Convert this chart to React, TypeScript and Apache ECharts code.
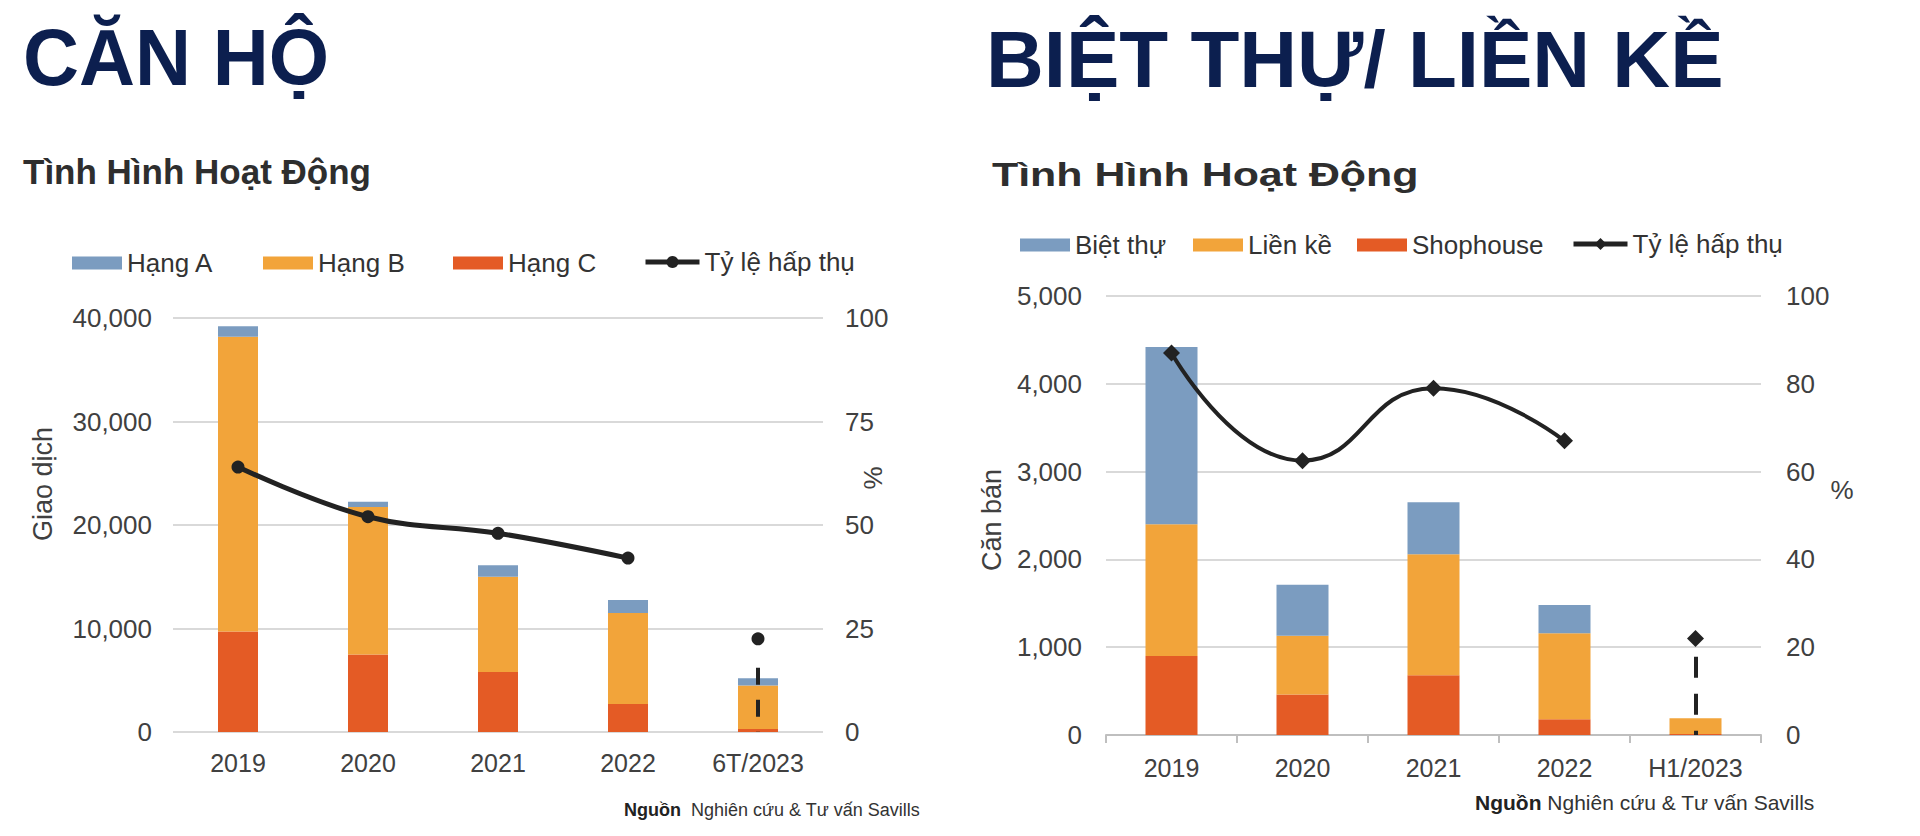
import React, { useEffect, useRef } from 'react';
import * as echarts from 'echarts';

// ---------- Data: CĂN HỘ ----------
const aptCategories = ['2019', '2020', '2021', '2022', '6T/2023'];
const aptHangA = [1000, 500, 1100, 1250, 700];
const aptHangB = [28500, 14250, 9200, 8800, 4200];
const aptHangC = [9700, 7500, 5800, 2700, 300];
const aptRate: (number | string)[] = [64, 52, 48, 42, '-'];
const aptRateH1: (number | string)[] = ['-', '-', '-', '-', 22.5];
const aptDashRange = [15.5, 0];
const aptLeftTicks = [0, 10000, 20000, 30000, 40000];
const aptRightTicks = [0, 25, 50, 75, 100];

// ---------- Data: BIỆT THỰ / LIỀN KỀ ----------
const villaCategories = ['2019', '2020', '2021', '2022', 'H1/2023'];
const villaBietThu = [2020, 580, 590, 320, 0];
const villaLienKe = [1500, 670, 1380, 980, 180];
const villaShophouse = [900, 460, 680, 180, 10];
const villaRate: (number | string)[] = [87, 62.5, 79, 67, '-'];
const villaRateH1: (number | string)[] = ['-', '-', '-', '-', 22];
const villaDashRange = [17.8, 0];
const villaLeftTicks = [0, 1000, 2000, 3000, 4000, 5000];
const villaRightTicks = [0, 20, 40, 60, 80, 100];

const FONT = '"Liberation Sans", Arial, Helvetica, sans-serif';
const BLUE = '#7b9cc0';
const ORANGE = '#f2a43a';
const RED = '#e45b25';
const LINE = '#222222';
const NAVY = '#0c1f4f';
const LABEL = '#404040';
const GRIDC = '#d9d9d9';

const fmt = (v: number) => v.toLocaleString('en-US');

function axisFrom(ticks: number[]) {
  return { min: ticks[0], max: ticks[ticks.length - 1], interval: ticks[1] - ticks[0] };
}

function legend(name: string, left: number, top: number, isBar: boolean) {
  const l: any = {
    data: [name],
    left,
    top,
    padding: 0,
    itemWidth: isBar ? 50 : 54,
    itemHeight: isBar ? 13 : 15,
    itemGap: 0,
    selectedMode: false,
    textStyle: { fontSize: 26, color: '#333333', fontFamily: FONT },
  };
  if (isBar) l.icon = 'rect';
  else l.lineStyle = { width: 5, color: LINE };
  return l;
}

export default function App() {
  const ref = useRef<HTMLDivElement>(null);

  useEffect(() => {
    if (!ref.current) return;
    const chart = echarts.init(ref.current, undefined, { renderer: 'svg' });

    const yLabel = { fontSize: 26, color: LABEL, fontFamily: FONT };
    const xLabel = { fontSize: 25, color: LABEL, fontFamily: FONT };

    const option: any = {
      animation: false,
      backgroundColor: '#ffffff',
      textStyle: { fontFamily: FONT },
      legend: [
        legend('Hạng A', 72, 250, true),
        legend('Hạng B', 263, 250, true),
        legend('Hạng C', 453, 250, true),
        { ...legend('Tỷ lệ hấp thụ', 643, 249, false) },
        legend('Biệt thự', 1020, 232, true),
        legend('Liền kề', 1193, 232, true),
        legend('Shophouse', 1357, 232, true),
        { ...legend('Tỷ lệ hấp thụ ', 1571, 231, false) },
      ],
      grid: [
        { left: 173, top: 318, width: 650, height: 414 },
        { left: 1106, top: 296, width: 655, height: 439 },
      ],
      xAxis: [
        {
          type: 'category',
          gridIndex: 0,
          data: aptCategories,
          axisLine: { show: false },
          axisTick: { show: false },
          axisLabel: { ...xLabel, margin: 18 },
        },
        {
          type: 'category',
          gridIndex: 1,
          data: villaCategories,
          axisLine: { show: true, lineStyle: { color: '#bfbfbf', width: 2 } },
          axisTick: { show: true, length: 8, lineStyle: { color: '#bfbfbf', width: 2 } },
          axisLabel: { ...xLabel, margin: 20 },
        },
      ],
      yAxis: [
        {
          type: 'value',
          gridIndex: 0,
          position: 'left',
          ...axisFrom(aptLeftTicks),
          axisLine: { show: false },
          axisTick: { show: false },
          splitLine: { show: true, lineStyle: { color: GRIDC, width: 2 } },
          axisLabel: { ...yLabel, margin: 21, formatter: (v: number) => fmt(v) },
        },
        {
          type: 'value',
          gridIndex: 0,
          position: 'right',
          ...axisFrom(aptRightTicks),
          axisLine: { show: false },
          axisTick: { show: false },
          splitLine: { show: false },
          axisLabel: { ...yLabel, margin: 22 },
        },
        {
          type: 'value',
          gridIndex: 1,
          position: 'left',
          ...axisFrom(villaLeftTicks),
          axisLine: { show: false },
          axisTick: { show: false },
          splitLine: { show: true, lineStyle: { color: GRIDC, width: 2 } },
          axisLabel: { ...yLabel, margin: 24, formatter: (v: number) => fmt(v) },
        },
        {
          type: 'value',
          gridIndex: 1,
          position: 'right',
          ...axisFrom(villaRightTicks),
          axisLine: { show: false },
          axisTick: { show: false },
          splitLine: { show: false },
          axisLabel: { ...yLabel, margin: 25 },
        },
      ],
      series: [
        // ----- Căn hộ -----
        { name: 'Hạng C', type: 'bar', stack: 'apt', xAxisIndex: 0, yAxisIndex: 0, barWidth: 40, data: aptHangC, itemStyle: { color: RED } },
        { name: 'Hạng B', type: 'bar', stack: 'apt', xAxisIndex: 0, yAxisIndex: 0, barWidth: 40, data: aptHangB, itemStyle: { color: ORANGE } },
        { name: 'Hạng A', type: 'bar', stack: 'apt', xAxisIndex: 0, yAxisIndex: 0, barWidth: 40, data: aptHangA, itemStyle: { color: BLUE } },
        {
          name: 'Tỷ lệ hấp thụ',
          type: 'line',
          xAxisIndex: 0,
          yAxisIndex: 1,
          data: aptRate,
          smooth: 0.4,
          symbol: 'circle',
          symbolSize: 13,
          lineStyle: { color: LINE, width: 5 },
          itemStyle: { color: LINE },
          z: 5,
        },
        {
          name: 'Tỷ lệ hấp thụ',
          type: 'line',
          xAxisIndex: 0,
          yAxisIndex: 1,
          data: aptRateH1,
          symbol: 'circle',
          symbolSize: 13,
          lineStyle: { color: LINE, width: 5 },
          itemStyle: { color: LINE },
          z: 5,
          markLine: {
            silent: true,
            symbol: 'none',
            label: { show: false },
            lineStyle: { color: LINE, width: 4, type: [17, 15] },
            data: [[{ coord: [4, aptDashRange[0]] }, { coord: [4, aptDashRange[1]] }]],
          },
        },
        // ----- Biệt thự / Liền kề -----
        { name: 'Shophouse', type: 'bar', stack: 'villa', xAxisIndex: 1, yAxisIndex: 2, barWidth: 52, data: villaShophouse, itemStyle: { color: RED } },
        { name: 'Liền kề', type: 'bar', stack: 'villa', xAxisIndex: 1, yAxisIndex: 2, barWidth: 52, data: villaLienKe, itemStyle: { color: ORANGE } },
        { name: 'Biệt thự', type: 'bar', stack: 'villa', xAxisIndex: 1, yAxisIndex: 2, barWidth: 52, data: villaBietThu, itemStyle: { color: BLUE } },
        {
          name: 'Tỷ lệ hấp thụ ',
          type: 'line',
          xAxisIndex: 1,
          yAxisIndex: 3,
          data: villaRate,
          smooth: 0.5,
          symbol: 'diamond',
          symbolSize: 17,
          lineStyle: { color: LINE, width: 4 },
          itemStyle: { color: LINE },
          z: 5,
        },
        {
          name: 'Tỷ lệ hấp thụ ',
          type: 'line',
          xAxisIndex: 1,
          yAxisIndex: 3,
          data: villaRateH1,
          symbol: 'diamond',
          symbolSize: 17,
          lineStyle: { color: LINE, width: 4 },
          itemStyle: { color: LINE },
          z: 5,
          markLine: {
            silent: true,
            symbol: 'none',
            label: { show: false },
            lineStyle: { color: LINE, width: 4, type: [21, 16] },
            data: [[{ coord: [4, villaDashRange[0]] }, { coord: [4, villaDashRange[1]] }]],
          },
        },
      ],
      graphic: [
        { type: 'text', x: 23, y: 58, scaleX: 0.97, style: { text: 'CĂN HỘ', fontSize: 80, fontWeight: 'bold', fontFamily: FONT, fill: NAVY, align: 'left', verticalAlign: 'middle' } },
        { type: 'text', x: 986, y: 59, style: { text: 'BIỆT THỰ/ LIỀN KỀ', fontSize: 80, fontWeight: 'bold', fontFamily: FONT, fill: NAVY, align: 'left', verticalAlign: 'middle' } },
        { type: 'text', x: 23, y: 171, style: { text: 'Tình Hình Hoạt Động', fontSize: 35, fontWeight: 'bold', fontFamily: FONT, fill: '#2e2e2e', align: 'left', verticalAlign: 'middle' } },
        { type: 'text', x: 992, y: 174, scaleX: 1.3, originX: 0, originY: 0, style: { text: 'Tình Hình Hoạt Động', fontSize: 33, fontWeight: 'bold', fontFamily: FONT, fill: '#2e2e2e', align: 'left', verticalAlign: 'middle' } },
        { type: 'text', x: 43, y: 484, rotation: Math.PI / 2, style: { text: 'Giao dịch', fontSize: 27, fontFamily: FONT, fill: LABEL, align: 'center', verticalAlign: 'middle' } },
        { type: 'text', x: 873, y: 478, rotation: Math.PI / 2, style: { text: '%', fontSize: 26, fontFamily: FONT, fill: LABEL, align: 'center', verticalAlign: 'middle' } },
        { type: 'text', x: 992, y: 520, rotation: Math.PI / 2, style: { text: 'Căn bán', fontSize: 27, fontFamily: FONT, fill: LABEL, align: 'center', verticalAlign: 'middle' } },
        { type: 'text', x: 1842, y: 490, style: { text: '%', fontSize: 26, fontFamily: FONT, fill: LABEL, align: 'center', verticalAlign: 'middle' } },
        {
          type: 'text', x: 624, y: 810,
          style: { text: '{b|Nguồn}  Nghiên cứu & Tư vấn Savills', fontSize: 18, fontFamily: FONT, fill: '#333333', align: 'left', verticalAlign: 'middle', rich: { b: { fontWeight: 'bold', fontSize: 18, fontFamily: FONT, fill: '#222222' } } },
        },
        {
          type: 'text', x: 1475, y: 802,
          style: { text: '{b|Nguồn} Nghiên cứu & Tư vấn Savills', fontSize: 21, fontFamily: FONT, fill: '#333333', align: 'left', verticalAlign: 'middle', rich: { b: { fontWeight: 'bold', fontSize: 21, fontFamily: FONT, fill: '#222222' } } },
        },
      ],
    };

    chart.setOption(option);
    return () => {
      chart.dispose();
    };
  }, []);

  return (
    <div
      ref={ref}
      style={{ position: 'fixed', left: 0, top: 0, width: '1920px', height: '836px', background: '#fff' }}
    />
  );
}
